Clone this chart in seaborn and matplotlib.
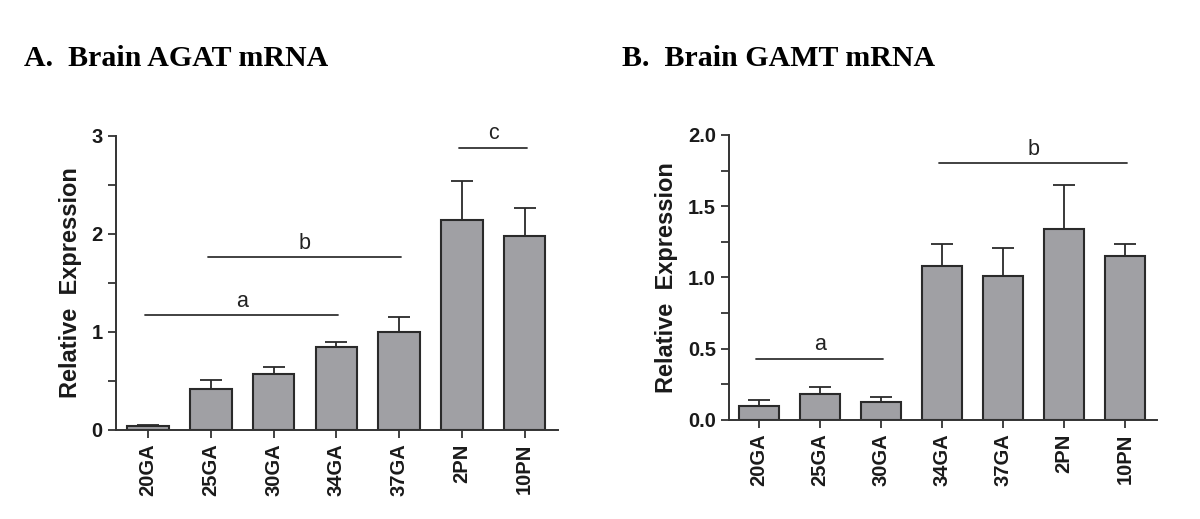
import matplotlib
matplotlib.use("Agg")
import matplotlib.pyplot as plt
import seaborn as sns
import numpy as np
import pandas as pd
from matplotlib.ticker import MultipleLocator

# ---- data ----
categories = ["20GA", "25GA", "30GA", "34GA", "37GA", "2PN", "10PN"]
agat_mean = [0.04, 0.415, 0.57, 0.843, 1.0, 2.143, 1.976]
agat_err = [0.01, 0.095, 0.076, 0.057, 0.157, 0.40, 0.286]
gamt_mean = [0.10, 0.18, 0.129, 1.081, 1.01, 1.340, 1.151]
gamt_err = [0.04, 0.049, 0.032, 0.156, 0.199, 0.309, 0.086]

# significance groups: (label, first index, last index, y level)
agat_groups = [("a", 0, 3, 1.173), ("b", 1, 4, 1.762), ("c", 5, 6, 2.878)]
gamt_groups = [("a", 0, 2, 0.43), ("b", 3, 6, 1.80)]

titles = ["A.  Brain AGAT mRNA", "B.  Brain GAMT mRNA"]
ylabel = "Relative  Expression"

sns.set_style("ticks")
plt.rcParams["font.family"] = ["Liberation Sans", "DejaVu Sans"]

fig = plt.figure(figsize=(12, 5.19), dpi=100)
axA = fig.add_axes([0.0967, 0.1715, 0.3683, 0.5665])
axB = fig.add_axes([0.6075, 0.1908, 0.3567, 0.5492])

bar_color = "#a0a0a4"
edge_color = "#2a2a2a"
text_color = "#1a1a1a"


def draw(ax, means, errs, groups, ylim, major, minor, fmt, xlim):
    df = pd.DataFrame({"cat": categories, "val": means})
    sns.barplot(data=df, x="cat", y="val", ax=ax, color=bar_color,
                saturation=1, edgecolor=edge_color, linewidth=1.5,
                width=0.66, errorbar=None)
    x = np.arange(len(categories))
    ax.errorbar(x, means, yerr=[np.zeros(len(errs)), errs], fmt="none",
                ecolor=edge_color, elinewidth=1.3, capsize=8, capthick=1.3,
                zorder=1)
    for lab, i0, i1, y in groups:
        ax.plot([i0 - 0.05, i1 + 0.03], [y, y], color="#333333", lw=1.3,
                clip_on=False)
        ax.text((i0 + i1) / 2, y + 0.012 * ylim[1], lab, ha="center",
                va="bottom", fontsize=15.5, color="#222222")
    ax.set_ylim(*ylim)
    ax.set_xlim(*xlim)
    ax.yaxis.set_major_locator(MultipleLocator(major))
    ax.yaxis.set_minor_locator(MultipleLocator(minor))
    ax.yaxis.set_major_formatter(fmt)
    sns.despine(ax=ax)
    for s in ("left", "bottom"):
        ax.spines[s].set_linewidth(1.4)
        ax.spines[s].set_color("#333333")
    ax.tick_params(axis="both", which="major", length=6, width=1.3,
                   color="#333333", labelcolor=text_color)
    ax.tick_params(axis="y", which="minor", length=6, width=1.3,
                   color="#333333")
    ax.tick_params(axis="x", which="minor", length=0)
    ax.set_xlabel("")
    ax.set_ylabel(ylabel, fontsize=17, fontweight="bold", labelpad=7,
                  color=text_color)
    for t in ax.get_xticklabels():
        t.set_rotation(90)
        t.set_fontsize(14.5)
        t.set_fontweight("bold")
    for t in ax.get_yticklabels():
        t.set_fontsize(14.5)
        t.set_fontweight("bold")


draw(axA, agat_mean, agat_err, agat_groups, (0, 3), 1, 0.5,
     "{x:.0f}", (-0.51, 6.53))
draw(axB, gamt_mean, gamt_err, gamt_groups, (0, 2.0), 0.5, 0.25,
     "{x:.1f}", (-0.49, 6.52))

fig.text(24 / 1200, 1 - 66 / 519, titles[0], fontsize=21.5, fontweight="bold",
         family=["Liberation Serif", "DejaVu Serif"], va="baseline",
         color="black")
fig.text(622 / 1200, 1 - 66 / 519, titles[1], fontsize=21.5, fontweight="bold",
         family=["Liberation Serif", "DejaVu Serif"], va="baseline",
         color="black")

fig.savefig("out.png", dpi=100)
